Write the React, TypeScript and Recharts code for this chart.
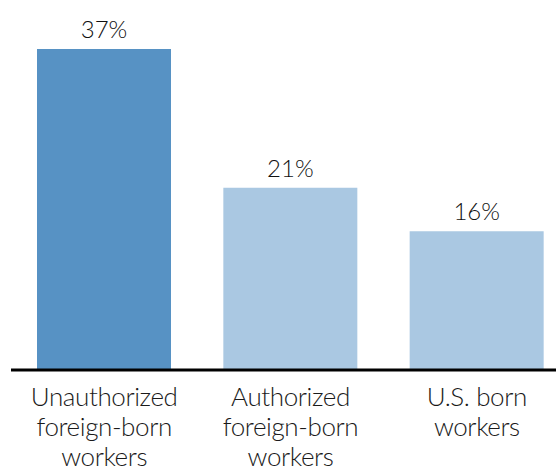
import React from 'react';
import { BarChart, Bar, XAxis, YAxis, Cell, LabelList } from 'recharts';

const categories = ['Unauthorized foreign-born workers', 'Authorized foreign-born workers', 'U.S. born workers'];
const tickLines = [
  ['Unauthorized', 'foreign-born', 'workers'],
  ['Authorized', 'foreign-born', 'workers'],
  ['U.S. born', 'workers'],
];
const shares = [37, 21, 16];
const barColors = ['#5792c4', '#aac8e2', '#aac8e2'];

const data = categories.map((name, i) => ({ name, share: shares[i] }));

const FONT = 'Lato, "Noto Sans", sans-serif';

const MultiLineTick = (props: any) => {
  const { x, y, payload } = props;
  const lines = tickLines[payload.index] || [payload.value];
  return (
    <g transform={`translate(${x},${y})`}>
      {lines.map((line: string, i: number) => (
        <text
          key={i}
          x={0}
          y={28 + i * 30}
          textAnchor="middle"
          fill="#1a1a1a"
          fontSize={26}
          letterSpacing={-0.4}
          fontFamily={FONT}
          fontWeight={300}
        >
          {line}
        </text>
      ))}
    </g>
  );
};

const App = () => {
  return (
    <div style={{ position: 'absolute', left: 0, top: 0, width: 556, height: 471, overflow: 'hidden', background: '#fff' }}>
      <BarChart
        width={570}
        height={471}
        data={data}
        margin={{ top: 49, right: 0, left: 11, bottom: 0 }}
      >
        <XAxis
          dataKey="name"
          height={101}
          tickLine={false}
          axisLine={{ stroke: '#000', strokeWidth: 3 }}
          tick={<MultiLineTick />}
          interval={0}
        />
        <YAxis hide domain={[0, 37]} />
        <Bar dataKey="share" barSize={134} isAnimationActive={false}>
          {data.map((d, i) => (
            <Cell key={d.name} fill={barColors[i]} />
          ))}
          <LabelList
            dataKey="share"
            position="top"
            offset={11}
            formatter={(v: any) => `${v}%`}
            fill="#111"
            fontSize={24}
            fontFamily={FONT}
            fontWeight={300}
          />
        </Bar>
      </BarChart>
    </div>
  );
};

export default App;
